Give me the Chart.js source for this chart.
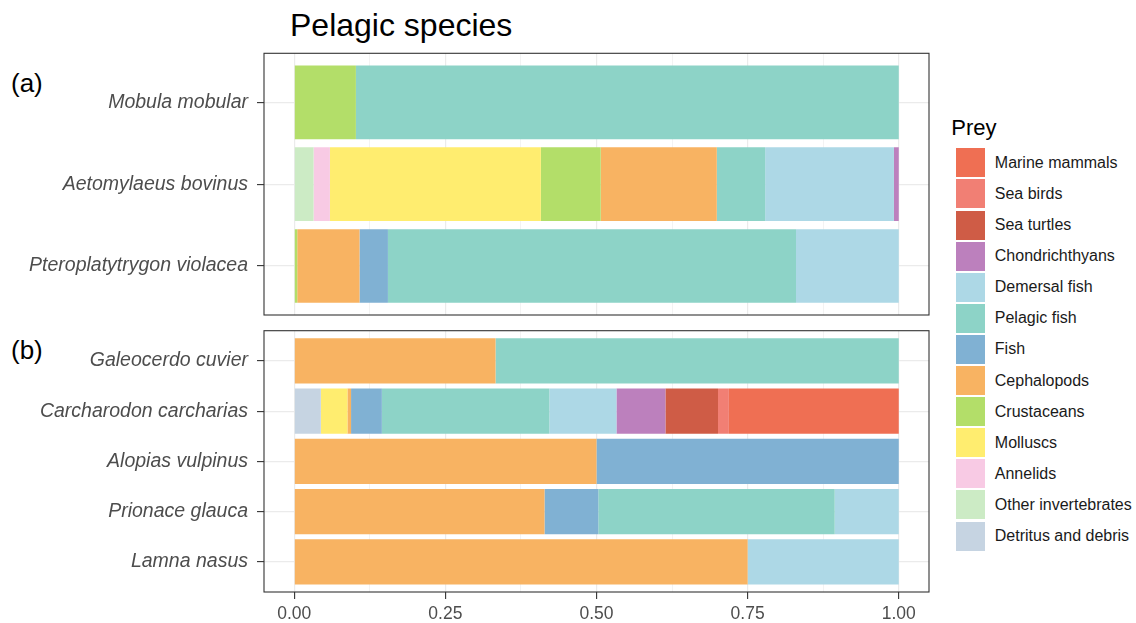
<!DOCTYPE html>
<html>
<head>
<meta charset="utf-8">
<title>Pelagic species</title>
<script src="https://cdn.jsdelivr.net/npm/chart.js@4.4.0/dist/chart.umd.min.js"></script>
<style>
body{margin:0;background:#fff;overflow:hidden;font-family:"Liberation Sans",Arial,sans-serif;}
#title{position:absolute;left:290px;top:8.9px;font-size:32px;line-height:32px;color:#000;}
.tag{position:absolute;left:11px;font-size:26px;line-height:26px;color:#000;}
#boxA{position:absolute;left:0;top:0;}
#boxB{position:absolute;left:0;top:320px;}
#legTitle{position:absolute;left:951.3px;top:117.4px;font-size:22px;line-height:22px;color:#000;}
.row{position:absolute;left:955.5px;height:31px;display:flex;align-items:center;}
.key{width:29px;height:29px;margin-right:10.3px;}
.lab{font-size:16px;color:#1a1a1a;white-space:nowrap;}
</style>
</head>
<body>
<div id="title">Pelagic species</div>
<div class="tag" style="top:70.3px">(a)</div>
<div class="tag" style="top:337px">(b)</div>
<div id="boxA"><canvas id="chartA" width="930" height="316"></canvas></div>
<div id="boxB"><canvas id="chartB" width="930" height="306"></canvas></div>
<div id="legTitle">Prey</div>
<div id="legend"></div>
<script>
var prey = ["Marine mammals","Sea birds","Sea turtles","Chondrichthyans","Demersal fish","Pelagic fish","Fish","Cephalopods","Crustaceans","Molluscs","Annelids","Other invertebrates","Detritus and debris"];
var preyColours = ["#EF6F53","#F17F74","#CF5C46","#BC80BD","#ADD8E6","#8DD3C7","#80B1D3","#F8B362","#B3DE69","#FFED6F","#F8CAE4","#CCEBC5","#C6D4E2"];

var speciesA = ["Mobula mobular","Aetomylaeus bovinus","Pteroplatytrygon violacea"];
var speciesB = ["Galeocerdo cuvier","Carcharodon carcharias","Alopias vulpinus","Prionace glauca","Lamna nasus"];

// diet proportions, one row per prey (same order as prey), one column per species
var shareA = [
  [0,0,0],
  [0,0,0],
  [0,0,0],
  [0,0.008,0],
  [0,0.213,0.170],
  [0.898,0.080,0.675],
  [0,0,0.047],
  [0,0.192,0.103],
  [0.102,0.099,0.005],
  [0,0.349,0],
  [0,0.027,0],
  [0,0.032,0],
  [0,0,0]
];
var shareB = [
  [0,0.281,0,0,0],
  [0,0.018,0,0,0],
  [0,0.087,0,0,0],
  [0,0.081,0,0,0],
  [0,0.111,0,0.106,0.25],
  [0.667,0.277,0,0.391,0],
  [0,0.051,0.5,0.089,0],
  [0.333,0.006,0.5,0.414,0.75],
  [0,0,0,0,0],
  [0,0.044,0,0,0],
  [0,0,0,0,0],
  [0,0,0,0,0],
  [0,0.044,0,0,0]
];

var gridCol = "#EBEBEB";
var tickCol = "#333333";

function isMajor(v){ return Math.abs(v*4 - Math.round(v*4)) < 1e-9; }

var panelBorder = {
  id: 'panelBorder',
  afterDraw: function(chart){
    var a = chart.chartArea, ctx = chart.ctx;
    ctx.save();
    ctx.strokeStyle = tickCol;
    ctx.lineWidth = 1.1;
    ctx.strokeRect(a.left, a.top, a.right - a.left, a.bottom - a.top);
    ctx.restore();
  }
};

function panel(id, species, shares, showX, padTop){
  var datasets = [];
  for (var k = prey.length - 1; k >= 0; k--){
    datasets.push({
      label: prey[k],
      data: shares[k].map(function(v, i){ return {x: v, y: i}; }),
      backgroundColor: preyColours[k],
      borderWidth: 0,
      barPercentage: 0.9,
      categoryPercentage: 1
    });
  }
  var ctx = document.getElementById(id).getContext('2d');
  return new Chart(ctx, {
    type: 'bar',
    data: {datasets: datasets},
    options: {
      indexAxis: 'y',
      responsive: false,
      animation: false,
      devicePixelRatio: 1,
      layout: {padding: {top: padTop, right: 1, bottom: showX ? 0 : 1, left: 0}},
      plugins: {legend: {display: false}, tooltip: {enabled: false}},
      scales: {
        x: {
          type: 'linear',
          min: -0.05,
          max: 1.05,
          stacked: true,
          border: {display: false},
          grid: {
            color: gridCol,
            lineWidth: function(c){ return isMajor(c.tick.value) ? 1.2 : 0.6; },
            drawTicks: showX,
            tickLength: 7,
            tickWidth: 1.1,
            tickColor: function(c){ return isMajor(c.tick.value) ? tickCol : 'rgba(0,0,0,0)'; }
          },
          ticks: {
            display: showX,
            stepSize: 0.125,
            includeBounds: false,
            autoSkip: false,
            maxRotation: 0,
            padding: 5,
            color: '#4D4D4D',
            font: {family: '"Liberation Sans", Arial, sans-serif', size: 17.5},
            callback: function(v){ return isMajor(v) ? v.toFixed(2) : ''; }
          },
          afterFit: function(s){
            s.paddingLeft = 0; s.paddingRight = 0;
            if (showX) s.height = 34;
          }
        },
        y: {
          type: 'linear',
          min: -0.6,
          max: species.length - 0.4,
          reverse: true,
          stacked: true,
          offset: false,
          border: {display: false},
          grid: {
            offset: false,
            color: gridCol,
            lineWidth: 1.2,
            tickLength: 7,
            tickWidth: 1.1,
            tickColor: tickCol
          },
          ticks: {
            stepSize: 1,
            includeBounds: false,
            autoSkip: false,
            padding: 9,
            color: '#4D4D4D',
            font: {family: '"Liberation Sans", Arial, sans-serif', size: 19.5, style: 'italic'},
            callback: function(v){ return species[v] || ''; }
          },
          afterFit: function(s){
            s.width = 264;
            s.paddingTop = 0; s.paddingBottom = 0;
          }
        }
      }
    },
    plugins: [panelBorder]
  });
}

panel('chartA', speciesA, shareA, false, 53.3);
panel('chartB', speciesB, shareB, true, 10.7);

// legend
var leg = document.getElementById('legend');
for (var i = 0; i < prey.length; i++){
  var row = document.createElement('div');
  row.className = 'row';
  row.style.top = (148.3 + i*31.1 - 1) + 'px';
  var key = document.createElement('span');
  key.className = 'key';
  key.style.background = preyColours[i];
  var lab = document.createElement('span');
  lab.className = 'lab';
  lab.textContent = prey[i];
  row.appendChild(key);
  row.appendChild(lab);
  leg.appendChild(row);
}
</script>
</body>
</html>
